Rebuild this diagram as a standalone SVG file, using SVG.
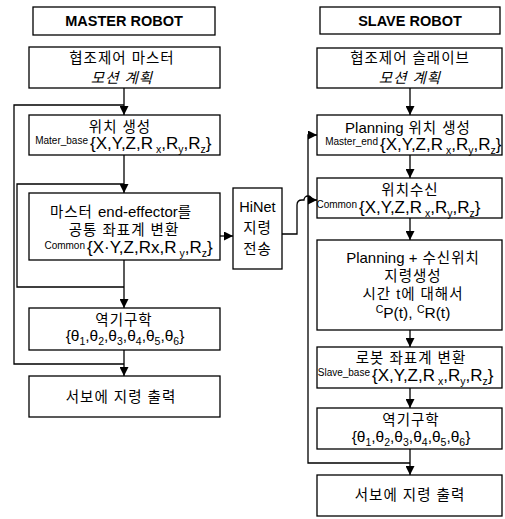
<svg xmlns="http://www.w3.org/2000/svg" width="505" height="519" viewBox="0 0 505 519">
<style>
.box{fill:#fff;stroke:#000;stroke-width:1.3}
.ln{fill:none;stroke:#000;stroke-width:1.3}
.t{font-family:"Liberation Sans","Noto Sans CJK KR",sans-serif;font-size:14.5px;letter-spacing:1px;text-anchor:middle;fill:#000}
.la{letter-spacing:0;font-size:15px}
.h{font-family:"Liberation Sans",sans-serif;font-weight:bold;font-size:14.5px;text-anchor:middle}
.it{font-style:italic}
.m{font-family:"Liberation Sans",sans-serif;font-size:17px;fill:#000}
.th{font-family:"Liberation Sans",sans-serif;font-size:15.5px;fill:#000;text-anchor:middle}
.lb{font-family:"Liberation Sans",sans-serif;font-size:10px;text-anchor:end}
.s{font-size:10.5px}
</style>
<defs>
<marker id="ah" viewBox="0 0 10 10" refX="10" refY="5" markerWidth="9" markerHeight="9" markerUnits="userSpaceOnUse" orient="auto"><path d="M0,0 L10,5 L0,10 z" fill="#000"/></marker>
</defs>
<rect width="505" height="519" fill="#fff"/>

<g id="connectors">
<path class="ln" d="M124,88 V115" marker-end="url(#ah)"/>
<path class="ln" d="M124,105 H14 V364 H124"/>
<path class="ln" d="M124,155 V193" marker-end="url(#ah)"/>
<path class="ln" d="M124,184 H17 V287 H124"/>
<path class="ln" d="M124,260 V308" marker-end="url(#ah)"/>
<path class="ln" d="M124,350 V376" marker-end="url(#ah)"/>
<path class="ln" d="M220,236 H233" marker-end="url(#ah)"/>
<path class="ln" d="M282,234 H297 V205 Q297,200 302,200 H304 A4,4 0 0 1 312,200 H317" marker-end="url(#ah)"/>
<path class="ln" d="M410,88 V115" marker-end="url(#ah)"/>
<path class="ln" d="M410,155 V178" marker-end="url(#ah)"/>
<path class="ln" d="M410,218 V240" marker-end="url(#ah)"/>
<path class="ln" d="M410,330 V347" marker-end="url(#ah)"/>
<path class="ln" d="M410,388 V408" marker-end="url(#ah)"/>
<path class="ln" d="M410,449 V475" marker-end="url(#ah)"/>
<path class="ln" d="M410,463 H308 V135 H317" marker-end="url(#ah)"/>
</g>

<g id="master-title">
<rect class="box" x="33" y="7" width="182" height="28"/>
<text class="h" x="124" y="26">MASTER ROBOT</text>
</g>
<g id="master-plan">
<rect class="box" x="29" y="47" width="191" height="41"/>
<text class="t" x="122" y="63">협조제어 마스터</text>
<text class="t it" x="122" y="83">모션 계획</text>
</g>
<g id="master-pos">
<rect class="box" x="29" y="115" width="191" height="40"/>
<text class="t" x="120" y="132">위치 생성</text>
<text class="lb" x="88" y="144">Mater_base</text>
<text class="m" x="90" y="149">{X,Y,Z,R<tspan class="s" dx="3" dy="4">x</tspan><tspan dy="-4">,R</tspan><tspan class="s" dy="4">y</tspan><tspan dy="-4">,R</tspan><tspan class="s" dy="4">z</tspan><tspan dy="-4">}</tspan></text>
</g>
<g id="master-common">
<rect class="box" x="29" y="193" width="191" height="67"/>
<text class="t" x="121" y="217">마스터 <tspan class="la">end-effector</tspan>를</text>
<text class="t" x="124" y="235">공통 좌표계 변환</text>
<text class="lb" x="85" y="249">Common</text>
<text class="m" x="87" y="253">{X·Y,Z,Rx,R<tspan class="s" dx="3" dy="4">y</tspan><tspan dy="-4">,R</tspan><tspan class="s" dy="4">z</tspan><tspan dy="-4">}</tspan></text>
</g>
<g id="master-ik">
<rect class="box" x="29" y="308" width="191" height="42"/>
<text class="t" x="124" y="325">역기구학</text>
<text class="th" x="125" y="341">{θ<tspan class="s" dy="4">1</tspan><tspan dy="-4">,θ</tspan><tspan class="s" dy="4">2</tspan><tspan dy="-4">,θ</tspan><tspan class="s" dy="4">3</tspan><tspan dy="-4">,θ</tspan><tspan class="s" dy="4">4</tspan><tspan dy="-4">,θ</tspan><tspan class="s" dy="4">5</tspan><tspan dy="-4">,θ</tspan><tspan class="s" dy="4">6</tspan><tspan dy="-4">}</tspan></text>
</g>
<g id="master-servo">
<rect class="box" x="29" y="376" width="191" height="41"/>
<text class="t" x="121" y="402">서보에 지령 출력</text>
</g>

<g id="hinet">
<rect class="box" x="233" y="188" width="49" height="81"/>
<text class="t" x="257.5" y="212" style="letter-spacing:0">HiNet</text>
<text class="t" x="257.5" y="233">지령</text>
<text class="t" x="257.5" y="254">전송</text>
</g>

<g id="slave-title">
<rect class="box" x="320" y="7" width="180" height="27"/>
<text class="h" x="410" y="26">SLAVE ROBOT</text>
</g>
<g id="slave-plan">
<rect class="box" x="317" y="48" width="185" height="40"/>
<text class="t" x="410" y="63">협조제어 슬래이브</text>
<text class="t it" x="410" y="83">모션 계획</text>
</g>
<g id="slave-pos">
<rect class="box" x="317" y="115" width="185" height="40"/>
<text class="t" x="408" y="133"><tspan class="la">Planning</tspan> 위치 생성</text>
<text class="lb" x="378" y="145">Master_end</text>
<text class="m" x="380" y="150">{X,Y,Z,R<tspan class="s" dx="3" dy="4">x</tspan><tspan dy="-4">,R</tspan><tspan class="s" dy="4">y</tspan><tspan dy="-4">,R</tspan><tspan class="s" dy="4">z</tspan><tspan dy="-4">}</tspan></text>
</g>
<g id="slave-recv">
<rect class="box" x="317" y="178" width="185" height="40"/>
<text class="t" x="410" y="195">위치수신</text>
<text class="lb" x="357" y="208">Common</text>
<text class="m" x="359" y="213">{X,Y,Z,R<tspan class="s" dx="3" dy="4">x</tspan><tspan dy="-4">,R</tspan><tspan class="s" dy="4">y</tspan><tspan dy="-4">,R</tspan><tspan class="s" dy="4">z</tspan><tspan dy="-4">}</tspan></text>
</g>
<g id="slave-gen">
<rect class="box" x="317" y="240" width="185" height="90"/>
<text class="t" x="413" y="263"><tspan class="la">Planning +</tspan> 수신위치</text>
<text class="t" x="413" y="281">지령생성</text>
<text class="t" x="413" y="299">시간 t에 대해서</text>
<text class="th" x="413" y="318"><tspan class="s" dy="-5">C</tspan><tspan dy="5">P(t), </tspan><tspan class="s" dy="-5">C</tspan><tspan dy="5">R(t)</tspan></text>
</g>
<g id="slave-robot">
<rect class="box" x="317" y="347" width="185" height="41"/>
<text class="t" x="411" y="363">로봇 좌표계 변환</text>
<text class="lb" x="370" y="376">Slave_base</text>
<text class="m" x="372" y="381">{X,Y,Z,R<tspan class="s" dx="3" dy="4">x</tspan><tspan dy="-4">,R</tspan><tspan class="s" dy="4">y</tspan><tspan dy="-4">,R</tspan><tspan class="s" dy="4">z</tspan><tspan dy="-4">}</tspan></text>
</g>
<g id="slave-ik">
<rect class="box" x="317" y="408" width="185" height="41"/>
<text class="t" x="411" y="425">역기구학</text>
<text class="th" x="411" y="442">{θ<tspan class="s" dy="4">1</tspan><tspan dy="-4">,θ</tspan><tspan class="s" dy="4">2</tspan><tspan dy="-4">,θ</tspan><tspan class="s" dy="4">3</tspan><tspan dy="-4">,θ</tspan><tspan class="s" dy="4">4</tspan><tspan dy="-4">,θ</tspan><tspan class="s" dy="4">5</tspan><tspan dy="-4">,θ</tspan><tspan class="s" dy="4">6</tspan><tspan dy="-4">}</tspan></text>
</g>
<g id="slave-servo">
<rect class="box" x="317" y="475" width="185" height="41"/>
<text class="t" x="410" y="500">서보에 지령 출력</text>
</g>
</svg>
